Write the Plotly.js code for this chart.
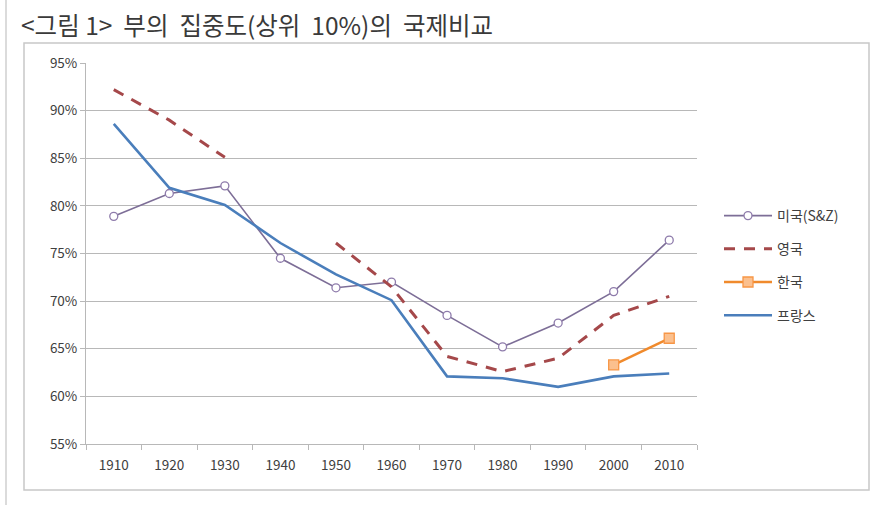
<!DOCTYPE html>
<html>
<head>
<meta charset="utf-8">
<script src="https://cdn.plot.ly/plotly-3.0.1.min.js"></script>
<style>html,body{margin:0;padding:0;background:#fff;}#chart{width:882px;height:505px;}</style>
</head>
<body>
<div id="chart"></div>
<script>
const years = ["1910","1920","1930","1940","1950","1960","1970","1980","1990","2000","2010"];
const usSZ   = [78.9, 81.3, 82.1, 74.5, 71.4, 72.0, 68.5, 65.2, 67.7, 71.0, 76.4];
const uk     = [92.2, 89.0, 85.1, null, 76.1, 71.5, 64.2, 62.6, 64.0, 68.5, 70.5];
const korea  = [null, null, null, null, null, null, null, null, null, 63.3, 66.1];
const france = [88.6, 81.9, 80.1, 76.1, 72.8, 70.1, 62.1, 61.9, 61.0, 62.1, 62.4];
const seriesNames = ["미국(S&Z)", "영국", "한국", "프랑스"];
const yTicks = [55,60,65,70,75,80,85,90,95];
const yTickText = yTicks.map(v => v + "%");

const W = 882, H = 505, L = 86, R = 185, T = 63, B = 61;
const pw = W - L - R, ph = H - T - B;
const px = x => (x - L) / pw;
const py = y => (H - B - y) / ph;

const traces = [
  {x: years, y: usSZ, name: seriesNames[0], mode: "lines+markers", legendgroup: "a",
   line: {color: "#7d6e97", width: 1.6},
   marker: {symbol: "circle", size: 8, color: "#ffffff", line: {color: "#8e7bab", width: 1.3}}},
  {x: years, y: uk, name: seriesNames[1], mode: "lines", legendgroup: "b", connectgaps: false,
   line: {color: "#a5484a", width: 3, dash: "11px,9px"}},
  {x: years, y: korea, name: seriesNames[2], mode: "lines+markers", legendgroup: "c",
   line: {color: "#f08a2c", width: 2.5},
   marker: {symbol: "square", size: 10, color: "#fbc08e", line: {color: "#f79646", width: 1.3}}},
  {x: years, y: france, name: seriesNames[3], mode: "lines", legendgroup: "d",
   line: {color: "#4a7ebb", width: 2.6}}
];

const grey = "#b8b8b8";
const layout = {
  width: W, height: H,
  margin: {l: L, r: R, t: T, b: B, pad: 0},
  paper_bgcolor: "#ffffff", plot_bgcolor: "#ffffff",
  font: {family: "'Noto Sans CJK KR', 'Noto Sans', sans-serif", color: "#404040", size: 13},
  title: {text: "&lt;그림 1&gt;&nbsp; 부의&nbsp; 집중도(상위&nbsp; 10%)의&nbsp; 국제비교", x: 21 / W, xanchor: "left", xref: "container",
          y: 1 - 26 / H, yanchor: "middle", yref: "container",
          font: {family: "'Noto Sans CJK KR', sans-serif", size: 24.5, color: "#3a3a3a"}},
  xaxis: {type: "category", tickson: "boundaries", ticks: "outside", ticklen: 5, tickcolor: grey,
          showline: true, linecolor: grey, linewidth: 1, showgrid: false, zeroline: false,
          ticklabelstandoff: 9,
          tickfont: {size: 13.5, color: "#404040", family: "'Noto Sans CJK KR', sans-serif"},
          range: [-0.5, 10.5], fixedrange: true},
  yaxis: {range: [55, 95], tickvals: yTicks, ticktext: yTickText, ticks: "outside", ticklen: 5,
          tickcolor: grey, showline: true, linecolor: grey, linewidth: 1, showgrid: true,
          gridcolor: grey, gridwidth: 1, zeroline: false,
          tickfont: {size: 13.5, color: "#404040", family: "'Noto Sans CJK KR', sans-serif"}},
  showlegend: true,
  legend: {x: px(719), y: py(200), xanchor: "left", yanchor: "top", traceorder: "grouped",
           tracegroupgap: 12, itemwidth: 48, bgcolor: "rgba(0,0,0,0)",
           font: {size: 14, color: "#404040", family: "'Noto Sans CJK KR', sans-serif"}},
  shapes: [
    {type: "rect", xref: "paper", yref: "paper", x0: px(24), x1: px(869), y0: py(490), y1: py(43),
     line: {color: "#c8c8c8", width: 1.5}, layer: "below"},
    {type: "line", xref: "paper", yref: "paper", x0: px(6), x1: px(6), y0: py(505), y1: py(0),
     line: {color: "#cfcfcf", width: 1.5}}
  ]
};

Plotly.newPlot("chart", traces, layout, {displayModeBar: false, staticPlot: true});
</script>
</body>
</html>
